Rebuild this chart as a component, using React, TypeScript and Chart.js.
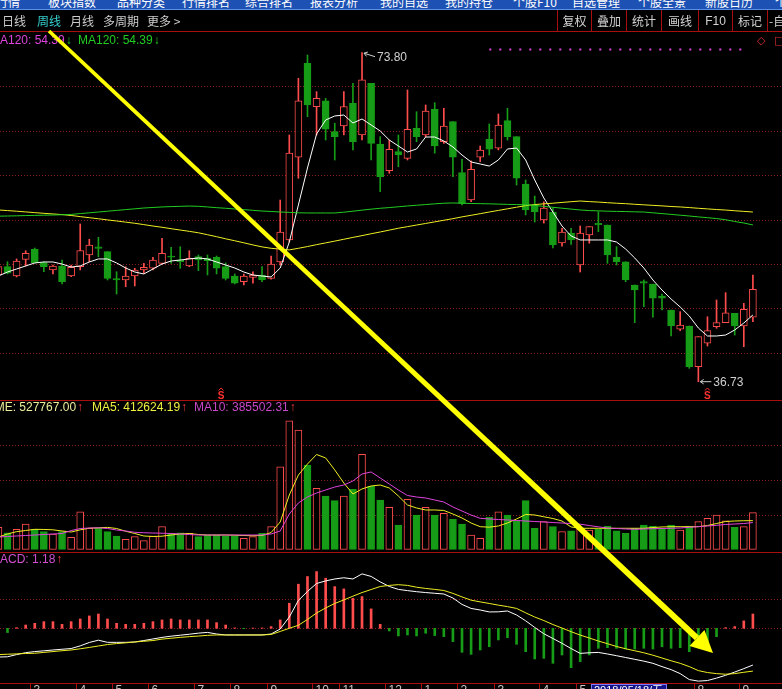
import React, { useEffect, useRef } from 'react';
import { Chart, registerables } from 'chart.js';

Chart.register(...registerables);

// ---------------- data (week index -1 .. 82) ----------------
const FIRST_WEEK = -1;

const OPEN = [48.75, 49.69, 48.64, 50.52, 51.65, 50.14, 49.32, 49.77, 48.64, 49.69, 51.01, 51.94, 51.38, 48.34, 48.19, 48.64, 49.32, 49.51, 50.07, 50.89, 50.44, 49.77, 50.82, 50.63, 50.75, 49.69, 48.64, 48.0, 48.49, 48.75, 48.38, 50.22, 52.7, 62.02, 72.61, 67.72, 68.39, 64.9, 65.54, 68.1, 64.53, 70.35, 63.51, 60.5, 62.65, 61.9, 65.28, 64.53, 67.42, 63.77, 66.03, 60.28, 57.2, 62.02, 64.04, 63.03, 66.14, 64.34, 59.01, 56.64, 54.95, 55.85, 52.36, 53.48, 49.88, 53.26, 54.58, 54.39, 50.75, 50.25, 47.63, 48.0, 47.74, 46.39, 44.81, 42.64, 43.01, 38.42, 41.06, 42.93, 43.38, 44.44, 43.01, 43.99];
const CLOSE = [49.69, 48.95, 50.33, 51.2, 50.14, 49.69, 49.77, 48.0, 49.62, 51.49, 52.13, 51.76, 48.38, 48.19, 48.64, 49.32, 49.62, 50.44, 51.2, 50.75, 50.25, 50.63, 50.44, 50.36, 49.51, 48.38, 47.82, 48.64, 48.75, 48.19, 49.99, 53.59, 62.5, 68.39, 67.91, 68.66, 65.17, 64.34, 67.72, 63.77, 70.73, 63.59, 59.83, 62.92, 62.27, 65.17, 64.34, 67.23, 63.29, 65.54, 62.02, 56.83, 60.66, 62.84, 62.92, 65.65, 64.34, 59.65, 56.08, 55.85, 56.3, 52.13, 53.59, 52.7, 53.48, 54.2, 54.39, 51.01, 50.25, 48.19, 47.06, 47.82, 46.13, 46.13, 43.01, 43.12, 38.42, 41.8, 42.48, 43.38, 44.5, 43.01, 44.89, 47.14];
const HIGH = [49.99, 50.25, 50.56, 51.49, 51.79, 50.25, 49.88, 50.44, 49.88, 54.5, 52.78, 53.0, 51.38, 49.12, 49.69, 49.51, 50.07, 50.75, 52.89, 51.87, 51.94, 51.49, 51.01, 51.01, 50.89, 50.11, 48.87, 48.87, 49.12, 49.69, 50.89, 57.2, 64.53, 70.92, 73.54, 69.41, 68.66, 65.85, 69.41, 70.35, 73.8, 70.35, 64.34, 63.96, 64.53, 69.6, 67.15, 67.91, 68.17, 67.54, 66.03, 61.79, 61.63, 63.29, 65.77, 66.89, 67.54, 64.34, 59.46, 57.65, 57.0, 56.3, 54.0, 54.0, 54.27, 54.2, 55.88, 54.39, 51.94, 50.25, 47.63, 48.19, 47.74, 46.61, 44.81, 44.62, 43.01, 41.8, 44.05, 45.94, 46.76, 44.44, 45.56, 48.75];
const LOW = [48.53, 48.87, 48.53, 49.77, 50.1, 49.12, 48.87, 47.74, 48.56, 49.32, 50.25, 50.81, 48.19, 46.61, 47.43, 47.52, 48.94, 49.32, 49.99, 50.07, 49.51, 49.69, 49.24, 48.75, 48.87, 48.19, 47.74, 47.63, 47.82, 48.0, 48.27, 49.88, 52.47, 59.65, 66.59, 64.53, 63.96, 61.71, 64.53, 62.84, 63.96, 61.71, 58.14, 60.21, 60.96, 61.71, 63.77, 64.34, 62.47, 63.59, 59.83, 56.64, 57.01, 61.52, 62.27, 62.84, 63.96, 58.89, 55.52, 54.72, 54.6, 51.8, 52.0, 52.2, 49.09, 52.33, 53.63, 50.07, 49.88, 48.0, 43.38, 45.18, 43.99, 44.81, 41.88, 42.48, 38.24, 36.73, 40.75, 42.75, 43.38, 41.99, 40.67, 43.49];

const MA_SHORT = [48.64, 49.09, 49.43, 49.77, 50.11, 50.22, 50.22, 49.99, 49.65, 49.77, 50.22, 50.56, 50.56, 50.11, 49.54, 49.09, 48.87, 49.43, 49.99, 50.33, 50.44, 50.56, 50.67, 50.56, 50.22, 49.88, 49.54, 49.09, 48.75, 48.64, 48.53, 49.54, 52.47, 56.64, 60.81, 64.64, 66.22, 66.67, 66.78, 65.88, 66.33, 65.66, 64.98, 63.96, 63.29, 62.61, 62.95, 64.3, 64.3, 63.85, 63.18, 62.27, 61.49, 61.26, 61.03, 61.71, 62.95, 63.06, 61.71, 59.46, 57.43, 55.85, 54.27, 53.15, 52.7, 52.7, 52.7, 52.7, 52.47, 51.68, 50.67, 49.54, 48.19, 47.06, 46.05, 45.15, 44.13, 42.78, 41.88, 41.88, 41.99, 42.56, 43.34, 44.25];
const MA60 = [56.08, 56.01, 55.94, 55.86, 55.78, 55.7, 55.63, 55.56, 55.46, 55.33, 55.21, 55.09, 54.96, 54.84, 54.71, 54.58, 54.43, 54.27, 54.13, 53.97, 53.82, 53.67, 53.51, 53.29, 53.07, 52.83, 52.61, 52.38, 52.14, 51.92, 51.76, 51.67, 51.58, 51.76, 51.96, 52.17, 52.37, 52.57, 52.78, 52.99, 53.19, 53.4, 53.6, 53.81, 54.02, 54.2, 54.38, 54.56, 54.74, 54.92, 55.1, 55.3, 55.48, 55.66, 55.85, 56.03, 56.21, 56.39, 56.57, 56.69, 56.77, 56.84, 56.93, 57.01, 57.09, 57.02, 56.97, 56.9, 56.84, 56.79, 56.72, 56.66, 56.6, 56.54, 56.47, 56.42, 56.35, 56.27, 56.2, 56.13, 56.07, 55.99, 55.92, 55.85];
const MA120 = [55.38, 55.4, 55.42, 55.45, 55.47, 55.49, 55.51, 55.54, 55.58, 55.67, 55.76, 55.85, 55.94, 56.03, 56.12, 56.21, 56.3, 56.36, 56.42, 56.46, 56.49, 56.52, 56.49, 56.42, 56.34, 56.27, 56.19, 56.12, 56.04, 55.96, 55.91, 55.85, 55.81, 55.76, 55.74, 55.74, 55.74, 55.74, 55.83, 55.94, 56.06, 56.17, 56.27, 56.35, 56.44, 56.53, 56.61, 56.69, 56.77, 56.84, 56.87, 56.84, 56.81, 56.79, 56.77, 56.74, 56.71, 56.69, 56.66, 56.6, 56.48, 56.38, 56.28, 56.18, 56.08, 56.01, 55.98, 55.94, 55.92, 55.9, 55.87, 55.85, 55.76, 55.67, 55.58, 55.49, 55.4, 55.3, 55.21, 55.11, 54.98, 54.78, 54.61, 54.39];

const VOLUME = [317000, 239000, 288000, 365000, 288000, 254000, 221000, 254000, 173000, 542000, 303000, 303000, 254000, 192000, 144000, 182000, 124000, 192000, 326000, 231000, 239000, 231000, 182000, 206000, 206000, 192000, 192000, 159000, 182000, 231000, 326000, 1191000, 1854000, 1720000, 1216000, 880000, 769000, 701000, 769000, 865000, 1370000, 913000, 711000, 606000, 350000, 721000, 495000, 606000, 495000, 519000, 433000, 365000, 206000, 159000, 461000, 542000, 495000, 413000, 701000, 303000, 398000, 326000, 254000, 268000, 288000, 278000, 288000, 336000, 268000, 231000, 303000, 350000, 336000, 288000, 350000, 278000, 336000, 398000, 447000, 495000, 412000, 317000, 326000, 527767];
const VOL_MA5 = [177000, 221000, 254000, 271000, 288000, 286000, 281000, 264000, 249000, 281000, 304000, 310000, 316000, 300000, 260000, 228000, 192000, 185000, 189000, 206000, 221000, 228000, 213000, 206000, 206000, 206000, 203000, 199000, 195000, 199000, 242000, 394000, 783000, 1071000, 1230000, 1367000, 1317000, 1144000, 956000, 797000, 870000, 913000, 927000, 884000, 769000, 639000, 596000, 567000, 567000, 560000, 509000, 451000, 379000, 326000, 319000, 336000, 379000, 437000, 502000, 495000, 469000, 444000, 408000, 322000, 303000, 303000, 303000, 303000, 303000, 303000, 303000, 303000, 314000, 322000, 326000, 326000, 326000, 326000, 343000, 372000, 401000, 408000, 412000, 412624.19];
const VOL_MA10 = [177000, 185000, 192000, 199000, 206000, 213000, 221000, 228000, 270000, 300000, 307000, 310000, 300000, 278000, 264000, 245000, 239000, 235000, 232000, 228000, 221000, 213000, 206000, 206000, 206000, 206000, 206000, 206000, 206000, 206000, 221000, 264000, 509000, 668000, 754000, 812000, 855000, 898000, 927000, 985000, 1086000, 1115000, 1028000, 942000, 855000, 776000, 754000, 740000, 711000, 682000, 610000, 552000, 494000, 447000, 437000, 430000, 423000, 415000, 408000, 401000, 394000, 386000, 379000, 371000, 362000, 343000, 324000, 307000, 300000, 293000, 288000, 293000, 297000, 300000, 303000, 307000, 317000, 327000, 336000, 346000, 358000, 365000, 372000, 385502.31];

const MACD_HIST = [-0.3, -0.35, 0.05, 0.27, 0.41, 0.55, 0.55, 0.33, 0.55, 0.77, 1.02, 1.18, 0.77, 0.41, 0.33, 0.33, 0.41, 0.55, 0.69, 0.77, 0.69, 0.69, 0.69, 0.69, 0.47, 0.27, 0.03, -0.03, 0.02, 0.03, 0.14, 0.69, 2.07, 3.64, 4.27, 4.68, 4.13, 3.44, 3.25, 2.48, 2.62, 1.6, 0.33, -0.22, -0.63, -0.55, -0.63, -0.41, -0.6, -0.69, -1.1, -1.98, -2.15, -1.79, -1.52, -0.96, -0.77, -1.32, -1.93, -2.53, -2.48, -2.89, -2.2, -3.25, -2.75, -2.2, -1.65, -1.6, -1.65, -1.71, -1.71, -1.65, -1.71, -1.52, -1.65, -1.6, -1.93, -1.43, -1.16, -0.69, 0.05, 0.14, 0.61, 1.18];
const DIF = [-2.37, -2.35, -2.17, -2.01, -1.92, -1.86, -1.79, -1.73, -1.67, -1.45, -1.17, -0.98, -1.16, -1.16, -1.16, -1.13, -1.01, -0.88, -0.75, -0.65, -0.57, -0.49, -0.4, -0.34, -0.47, -0.55, -0.55, -0.55, -0.55, -0.55, -0.47, -0.06, 0.93, 2.3, 3.04, 3.7, 3.91, 4.07, 4.17, 4.07, 4.49, 4.28, 3.83, 3.45, 3.21, 3.11, 3.02, 2.95, 2.89, 2.83, 2.5, 1.97, 1.64, 1.51, 1.35, 1.36, 1.43, 1.1, 0.62, 0.07, -0.45, -0.84, -1.24, -1.67, -2.07, -2.02, -1.99, -2.12, -2.26, -2.41, -2.56, -2.71, -2.89, -3.16, -3.41, -3.74, -4.23, -4.36, -4.31, -4.11, -3.88, -3.61, -3.33, -3.03];
const DEA = [-2.17, -2.14, -2.11, -2.08, -2.06, -1.99, -1.92, -1.85, -1.79, -1.69, -1.58, -1.46, -1.34, -1.26, -1.2, -1.13, -1.07, -1.01, -0.89, -0.82, -0.75, -0.69, -0.64, -0.58, -0.55, -0.55, -0.55, -0.55, -0.55, -0.55, -0.51, -0.26, 0.0, 0.25, 0.73, 1.26, 1.68, 2.05, 2.34, 2.65, 2.95, 3.2, 3.45, 3.54, 3.6, 3.54, 3.39, 3.29, 3.21, 3.12, 2.88, 2.59, 2.32, 2.18, 2.05, 1.91, 1.79, 1.64, 1.28, 0.93, 0.64, 0.31, 0.02, -0.28, -0.56, -0.8, -1.05, -1.27, -1.5, -1.69, -1.85, -2.02, -2.22, -2.45, -2.68, -2.89, -3.16, -3.49, -3.65, -3.74, -3.79, -3.74, -3.63, -3.53];

const PRICE_GRID = [70, 65, 60, 55, 50, 45, 40];
const VOL_GRID = [500000, 1000000, 1500000];
const MACD_GRID = [0, 2.42];

const MONTH_TICK_WEEKS = [2.5, 7.5, 11.5, 15.5, 20.5, 24.5, 28.5, 33.5, 36.5, 41.5, 45.5, 49.5, 53.5, 58.5, 62.5, 75.5, 80.5];
const MONTH_TICK_LABELS = ['3', '4', '5', '6', '7', '8', '9', '10', '11', '12', '1', '2', '3', '4', '5', '8', '9'];
const CURSOR_DATE = '2018/05/18/五';

const SIGNAL_WEEKS = [23.5, 77];
const DOT_MARK_WEEKS = [53, 81];
const DOT_MARK_LEVEL = 74.16;

// ---------------- layout / style ----------------
const W = 782;
const H = 689;
const AREA_TOP = 33;
const RED = '#ff4c4c';
const GREEN = '#169c16';
const SEP = '#a81010';
const GRID = '#8a1c1c';
const MAGENTA = '#dd44dd';
const YELLOW = '#eeee22';
const LINE_GREEN = '#22cc22';

const WEEKS = OPEN.map((_, k) => FIRST_WEEK + k);
const RISING = OPEN.map((o, k) => CLOSE[k] >= o);

function axisRange(vA: number, pxA: number, vB: number, pxB: number) {
  const k = (pxB - pxA) / (vA - vB);
  return { min: vA - (H - pxA) / k, max: vA + (pxA - AREA_TOP) / k };
}

const X_RANGE = (() => {
  const k = (752.9 - 7.5) / 82;
  return { min: -7.5 / k, max: (W - 7.5) / k };
})();
const P_RANGE = axisRange(73.8, 52.7, 36.73, 381.7);
const V_RANGE = axisRange(1000000, 549.3 - 1000000 / 14420, 0, 549.3);
const M_RANGE = axisRange(1.18, 614.0, 0, 628.3);

const pts = (arr: number[]) => arr.map((v, k) => ({ x: WEEKS[k], y: v }));

function lineDs(data: number[], color: string, axis: string, extra: any = {}) {
  return {
    type: 'line',
    data: pts(data),
    yAxisID: axis,
    borderColor: color,
    borderWidth: 1,
    pointRadius: 0,
    tension: 0,
    fill: false,
    order: 0,
    ...extra,
  };
}

function arrowLine(ctx: CanvasRenderingContext2D, fx: number, fy: number, tx: number, ty: number) {
  ctx.beginPath();
  ctx.moveTo(fx, fy);
  ctx.lineTo(tx, ty);
  const ang = Math.atan2(ty - fy, tx - fx);
  ctx.moveTo(tx, ty);
  ctx.lineTo(tx - 4 * Math.cos(ang - 0.6), ty - 4 * Math.sin(ang - 0.6));
  ctx.moveTo(tx, ty);
  ctx.lineTo(tx - 4 * Math.cos(ang + 0.6), ty - 4 * Math.sin(ang + 0.6));
  ctx.stroke();
}

const decorPlugin = {
  id: 'stockDecor',
  beforeDatasetsDraw(chart: any) {
    const { ctx, scales } = chart;
    ctx.save();
    ctx.strokeStyle = GRID;
    ctx.lineWidth = 1;
    ctx.setLineDash([1, 2]);
    const hl = (y: number) => {
      const yy = Math.round(y) + 0.5;
      ctx.beginPath();
      ctx.moveTo(0, yy);
      ctx.lineTo(W, yy);
      ctx.stroke();
    };
    PRICE_GRID.forEach((v) => hl(scales.yP.getPixelForValue(v)));
    VOL_GRID.forEach((v) => hl(scales.yV.getPixelForValue(v)));
    MACD_GRID.forEach((v) => hl(scales.yM.getPixelForValue(v)));
    ctx.restore();
  },
  afterDraw(chart: any) {
    const { ctx, scales } = chart;
    const x = scales.x;
    const yP = scales.yP;
    ctx.save();
    ctx.setLineDash([]);
    ctx.lineWidth = 1;
    ctx.strokeStyle = SEP;
    [400.5, 552.5, 683.5].forEach((y) => {
      ctx.beginPath();
      ctx.moveTo(0, y);
      ctx.lineTo(W, y);
      ctx.stroke();
    });

    // month ticks
    ctx.font = '12px "Liberation Sans", Arial, sans-serif';
    ctx.textBaseline = 'top';
    MONTH_TICK_WEEKS.forEach((w, k) => {
      const px = Math.round(x.getPixelForValue(w)) + 0.5;
      ctx.strokeStyle = SEP;
      ctx.beginPath();
      ctx.moveTo(px, 684);
      ctx.lineTo(px, H);
      ctx.stroke();
      ctx.fillStyle = '#cfc4c4';
      ctx.fillText(MONTH_TICK_LABELS[k], px + 3, 685);
    });
    // cursor date box
    ctx.fillStyle = '#15158a';
    ctx.fillRect(591, 684, 76, 8);
    ctx.strokeStyle = '#7a7aff';
    ctx.strokeRect(591.5, 684.5, 75, 8);
    ctx.fillStyle = '#ffffff';
    ctx.font = '11px "Liberation Sans", "Noto Sans CJK SC", sans-serif';
    ctx.fillText(CURSOR_DATE, 594, 685.5);

    // high / low annotations
    const hiIdx = HIGH.indexOf(Math.max(...HIGH));
    const loIdx = LOW.indexOf(Math.min(...LOW));
    const hx = x.getPixelForValue(WEEKS[hiIdx]);
    const hy = yP.getPixelForValue(HIGH[hiIdx]);
    const lx = x.getPixelForValue(WEEKS[loIdx]);
    const ly = yP.getPixelForValue(LOW[loIdx]);
    ctx.strokeStyle = '#cfcfcf';
    ctx.fillStyle = '#cfcfcf';
    arrowLine(ctx, hx + 13, hy + 4, hx + 2, hy + 0.5);
    arrowLine(ctx, lx + 13, ly, lx + 2, ly);
    ctx.font = '12px "Liberation Sans", Arial, sans-serif';
    ctx.textBaseline = 'middle';
    ctx.fillText(HIGH[hiIdx].toFixed(2), hx + 15, hy + 4.5);
    ctx.fillText(LOW[loIdx].toFixed(2), lx + 15, ly + 1);

    // S signal marks
    SIGNAL_WEEKS.forEach((w) => {
      const px = x.getPixelForValue(w);
      ctx.strokeStyle = '#ff3030';
      ctx.fillStyle = '#ff3030';
      ctx.beginPath();
      ctx.moveTo(px - 2.5, 390.5);
      ctx.lineTo(px, 388);
      ctx.lineTo(px + 2.5, 390.5);
      ctx.stroke();
      ctx.font = 'bold 10px "Liberation Sans", Arial, sans-serif';
      ctx.textAlign = 'center';
      ctx.textBaseline = 'middle';
      ctx.fillText('S', px, 396);
      ctx.textAlign = 'left';
    });
    ctx.restore();
  },
};

export default function App() {
  const chartRef = useRef<HTMLCanvasElement>(null);
  const arrowRef = useRef<HTMLCanvasElement>(null);

  useEffect(() => {
    const canvas = chartRef.current!;
    const datasets: any[] = [
      {
        type: 'bar',
        data: WEEKS.map((w, k) => ({ x: w, y: [OPEN[k], CLOSE[k]] })),
        yAxisID: 'yP',
        backgroundColor: RISING.map((r) => (r ? '#000000' : GREEN)),
        borderColor: RISING.map((r) => (r ? RED : GREEN)),
        borderWidth: 1,
        borderSkipped: false,
        barThickness: 7,
        grouped: false,
        order: 1,
      },
      {
        type: 'bar',
        data: WEEKS.map((w, k) => ({ x: w, y: [LOW[k], HIGH[k]] })),
        yAxisID: 'yP',
        backgroundColor: RISING.map((r) => (r ? RED : GREEN)),
        borderWidth: 0,
        barThickness: 1,
        grouped: false,
        order: 2,
      },
      lineDs(MA120, LINE_GREEN, 'yP'),
      lineDs(MA60, YELLOW, 'yP'),
      lineDs(MA_SHORT, '#ffffff', 'yP'),
      {
        type: 'line',
        data: DOT_MARK_WEEKS.map((w) => ({ x: w, y: DOT_MARK_LEVEL })),
        yAxisID: 'yP',
        borderColor: MAGENTA,
        borderWidth: 2,
        borderDash: [2, 8],
        pointRadius: 0,
        order: 0,
      },
      {
        type: 'bar',
        data: pts(VOLUME),
        yAxisID: 'yV',
        backgroundColor: RISING.map((r) => (r ? '#000000' : GREEN)),
        borderColor: RISING.map((r) => (r ? RED : GREEN)),
        borderWidth: 1,
        borderSkipped: false,
        barThickness: 7,
        grouped: false,
        order: 1,
      },
      lineDs(VOL_MA10, MAGENTA, 'yV'),
      lineDs(VOL_MA5, YELLOW, 'yV'),
      {
        type: 'bar',
        data: pts(MACD_HIST),
        yAxisID: 'yM',
        backgroundColor: MACD_HIST.map((v) => (v >= 0 ? RED : GREEN)),
        borderWidth: 0,
        barThickness: 2,
        grouped: false,
        order: 1,
      },
      lineDs(DEA, YELLOW, 'yM'),
      lineDs(DIF, '#ffffff', 'yM'),
    ];

    const chart = new Chart(canvas, {
      type: 'bar',
      data: { datasets },
      options: {
        responsive: false,
        animation: false,
        events: [],
        layout: { padding: { top: AREA_TOP, left: 0, right: 0, bottom: 0 } },
        plugins: { legend: { display: false }, tooltip: { enabled: false } },
        scales: {
          x: { type: 'linear', min: X_RANGE.min, max: X_RANGE.max, display: false, offset: false },
          yP: { type: 'linear', position: 'left', min: P_RANGE.min, max: P_RANGE.max, display: false },
          yV: { type: 'linear', position: 'left', min: V_RANGE.min, max: V_RANGE.max, display: false },
          yM: { type: 'linear', position: 'left', min: M_RANGE.min, max: M_RANGE.max, display: false },
        },
      } as any,
      plugins: [decorPlugin],
    } as any);

    // hand-drawn yellow arrow overlay
    const a = arrowRef.current!.getContext('2d')!;
    a.clearRect(0, 0, W, H);
    const sx = 49, sy = 31, tx = 713, ty = 653;
    const len = Math.hypot(tx - sx, ty - sy);
    const ux = (tx - sx) / len, uy = (ty - sy) / len;
    const nx = -uy, ny = ux;
    const headLen = 22, headHalf = 11;
    const bx = tx - ux * headLen, by = ty - uy * headLen;
    const w0 = 1.8, w1 = 3;
    a.fillStyle = '#ffff00';
    a.beginPath();
    a.moveTo(sx + nx * w0, sy + ny * w0);
    a.lineTo(bx + nx * w1, by + ny * w1);
    a.lineTo(bx - nx * w1, by - ny * w1);
    a.lineTo(sx - nx * w0, sy - ny * w0);
    a.closePath();
    a.fill();
    a.beginPath();
    a.moveTo(tx, ty);
    a.lineTo(bx + nx * headHalf, by + ny * headHalf);
    a.lineTo(bx - nx * headHalf, by - ny * headHalf);
    a.closePath();
    a.fill();

    return () => chart.destroy();
  }, []);

  const cjk = '"Noto Sans CJK SC", "Noto Sans", sans-serif';
  const lat = '"Liberation Sans", Arial, sans-serif';
  const NAV = ['行情', '板块指数', '品种分类', '行情排名', '综合排名', '报表分析', '我的自选', '我的持仓', '个股F10', '自选管理', '个股全景', '新股日历', '个股'];
  const NAV_X = [-4, 48, 117, 182, 245, 310, 380, 445, 513, 572, 638, 705, 775];
  const TABS = ['日线', '周线', '月线', '多周期', '更多 >'];
  const TAB_X = [2, 37, 70, 103, 147];
  const BTN = ['复权', '叠加', '统计', '画线', 'F10', '标记'];
  const BTN_X = [557, 591, 626, 661, 698, 732, 767];

  const abs = (left: number, top: number, extra: any = {}) => ({
    position: 'absolute' as const,
    left,
    top,
    whiteSpace: 'nowrap' as const,
    fontSize: 12,
    lineHeight: '14px',
    ...extra,
  });

  const legend = (left: number, top: number, text: string, color: string, arrow: string, arrowColor: string) => (
    <div style={abs(left, top, { fontFamily: lat, color })}>
      {text}
      <span style={{ color: arrowColor, marginLeft: 1 }}>{arrow}</span>
    </div>
  );

  return (
    <div style={{ position: 'fixed', left: 0, top: 0, width: W, height: H, background: '#000', overflow: 'hidden' }}>
      <canvas ref={chartRef} width={W} height={H} style={{ position: 'absolute', left: 0, top: 0, width: W, height: H }} />

      {/* top menu bar */}
      <div style={{ position: 'absolute', left: 0, top: 0, width: W, height: 9, background: '#1d51b3', borderBottom: '1px solid #5a8fe6', overflow: 'hidden' }}>
        {NAV.map((t, k) => (
          <div key={t + k} style={abs(NAV_X[k], -5, { fontFamily: cjk, color: '#ffffff' })}>{t}</div>
        ))}
      </div>

      {/* period tabs */}
      {TABS.map((t, k) => (
        <div key={t} style={abs(TAB_X[k], 14, { fontFamily: cjk, color: k === 1 ? '#35cfcf' : '#cccccc' })}>{t}</div>
      ))}

      {/* right buttons */}
      {BTN.map((t, k) => (
        <div
          key={t}
          style={abs(BTN_X[k], 10, {
            width: BTN_X[k + 1] - BTN_X[k],
            height: 21,
            lineHeight: '22px',
            textAlign: 'center',
            borderLeft: '1px solid ' + SEP,
            boxSizing: 'border-box',
            fontFamily: t === 'F10' ? lat : cjk,
            color: '#d2d2d2',
          })}
        >
          {t}
        </div>
      ))}
      <div style={abs(767, 10, { height: 21, lineHeight: '22px', borderLeft: '1px solid ' + SEP, paddingLeft: 1, fontFamily: cjk, color: '#d2d2d2' })}>-自</div>
      <div style={{ position: 'absolute', left: 0, top: 31, width: W, height: 1, background: SEP }} />

      {/* main legend */}
      {legend(-10, 33, 'MA120: ' + MA120[MA120.length - 1].toFixed(2), MAGENTA, '↓', LINE_GREEN)}
      {legend(78, 33, 'MA120: ' + MA120[MA120.length - 1].toFixed(2), LINE_GREEN, '↓', LINE_GREEN)}
      <div style={abs(757, 34, { fontFamily: '"DejaVu Sans", sans-serif', color: '#e03030', fontSize: 11 })}>◇</div>
      <div style={abs(774, 34, { fontFamily: '"DejaVu Sans", sans-serif', color: '#e03030', fontSize: 11 })}>□</div>

      {/* volume legend */}
      {legend(-38, 400, 'VOLUME: ' + VOLUME[VOLUME.length - 1].toFixed(2), '#ecec9a', '↑', '#ff3a3a')}
      {legend(92, 400, 'MA5: ' + VOL_MA5[VOL_MA5.length - 1].toFixed(2), '#f0f040', '↑', '#ff3a3a')}
      {legend(194, 400, 'MA10: ' + VOL_MA10[VOL_MA10.length - 1].toFixed(2), '#c848c8', '↑', '#ff3a3a')}

      {/* macd legend */}
      {legend(-10, 552, 'MACD: ' + MACD_HIST[MACD_HIST.length - 1].toFixed(2), '#d050d0', '↑', '#ff3a3a')}

      <canvas ref={arrowRef} width={W} height={H} style={{ position: 'absolute', left: 0, top: 0, width: W, height: H, pointerEvents: 'none' }} />
    </div>
  );
}
